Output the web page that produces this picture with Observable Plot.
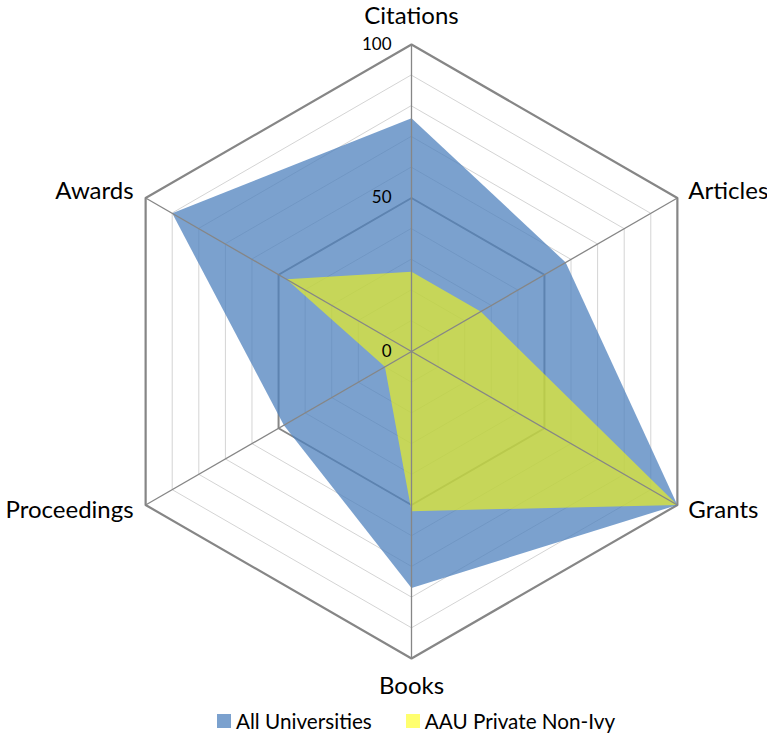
<!DOCTYPE html>
<html>
<head>
<meta charset="utf-8">
<script src="https://cdn.jsdelivr.net/npm/d3@7"></script>
<script src="https://cdn.jsdelivr.net/npm/@observablehq/plot@0.6"></script>
<style>
  body { margin: 0; background: #fff; font-family: Lato, "Open Sans", sans-serif; }
  #legend { display: flex; justify-content: flex-start; align-items: center; height: 31px; padding-left: 200px; font-size: 20.7px; color: #000; }
  .item { display: flex; align-items: center; margin: 0 17px; }
  .sw { width: 14px; height: 14px; margin-right: 5px; }
</style>
</head>
<body>
<div id="chart"></div>
<div id="legend"></div>
<script>
// ---- data ----
const axes = ["Citations", "Articles", "Grants", "Books", "Proceedings", "Awards"];
const allUniversities = [76, 58, 100, 77, 48, 90];
const aauPrivateNonIvy = [26, 26, 100, 52, 10, 47];
const seriesNames = ["All Universities", "AAU Private Non-Ivy"];
const seriesColors = ["#4F81BD", "#FFFF00"];
const seriesOpacity = [0.75, 0.57];
const tickValues = [0, 50, 100];
const gridLevels = [10, 20, 30, 40, 60, 70, 80, 90];

// ---- helpers ----
const ang = i => Math.PI / 2 - i * Math.PI / 3;
const pt = (i, r, extra = {}) => ({x: r * Math.cos(ang(i)), y: r * Math.sin(ang(i)), ...extra});

const ringPts = levels => levels.flatMap(l => axes.map((a, i) => pt(i, l, {level: l})));
const lightRings = ringPts(gridLevels);
const midRing = ringPts([50]);
const outerRing = ringPts([100]);
const seriesPts = [allUniversities, aauPrivateNonIvy].map((vals, s) =>
  vals.map((v, i) => pt(i, v, {series: seriesNames[s], axis: axes[i]})));
const spokes = axes.map((a, i) => ({...pt(i, 100), axis: a}));
const labels = axes.map((a, i) => ({...pt(i, 100), axis: a, i}));
const ticks = tickValues.map(v => ({...pt(0, v), label: String(v)}));

const pick = idx => labels.filter(d => idx.includes(d.i));
const fs = 24;

const chart = Plot.plot({
  width: 767,
  height: 705,
  margin: 0,
  style: {fontFamily: "Lato, 'Open Sans', sans-serif", background: "#fff"},
  x: {domain: [-100, 100], range: [104, 718], axis: null},
  y: {domain: [-100, 100], range: [658, 44], axis: null},
  marks: [
    Plot.line(lightRings, {x: "x", y: "y", z: "level", curve: "linear-closed", stroke: "#d4d4d4", strokeWidth: 1}),
    Plot.line(midRing, {x: "x", y: "y", z: "level", curve: "linear-closed", stroke: "#868686", strokeWidth: 2}),
    Plot.line(outerRing, {x: "x", y: "y", z: "level", curve: "linear-closed", stroke: "#868686", strokeWidth: 2.2}),
    ...seriesPts.map((d, s) => Plot.line(d, {x: "x", y: "y", curve: "linear-closed", fill: seriesColors[s], fillOpacity: seriesOpacity[s], stroke: "none"})),
    Plot.link(spokes, {x1: 0, y1: 0, x2: "x", y2: "y", stroke: "#868686", strokeWidth: 1.3}),
    Plot.text(ticks, {x: "x", y: "y", text: "label", textAnchor: "end", dx: -20, fontSize: 17, fill: "#000"}),
    Plot.text(pick([0]), {x: "x", y: "y", text: "axis", dy: -28, fontSize: fs, fill: "#000"}),
    Plot.text(pick([3]), {x: "x", y: "y", text: "axis", dy: 28, fontSize: fs, fill: "#000"}),
    Plot.text(pick([1]), {x: "x", y: "y", text: "axis", textAnchor: "start", dx: 11, dy: -7, fontSize: fs, fill: "#000"}),
    Plot.text(pick([2]), {x: "x", y: "y", text: "axis", textAnchor: "start", dx: 11, dy: 5, fontSize: fs, fill: "#000"}),
    Plot.text(pick([5]), {x: "x", y: "y", text: "axis", textAnchor: "end", dx: -12, dy: -7, fontSize: fs, fill: "#000"}),
    Plot.text(pick([4]), {x: "x", y: "y", text: "axis", textAnchor: "end", dx: -12, dy: 5, fontSize: fs, fill: "#000"})
  ]
});
document.getElementById("chart").appendChild(chart);

const legend = document.getElementById("legend");
seriesNames.forEach((n, s) => {
  const item = document.createElement("div");
  item.className = "item";
  const sw = document.createElement("span");
  sw.className = "sw";
  sw.style.background = seriesColors[s];
  sw.style.opacity = seriesOpacity[s];
  const t = document.createElement("span");
  t.textContent = n;
  item.appendChild(sw);
  item.appendChild(t);
  legend.appendChild(item);
});
</script>
</body>
</html>
